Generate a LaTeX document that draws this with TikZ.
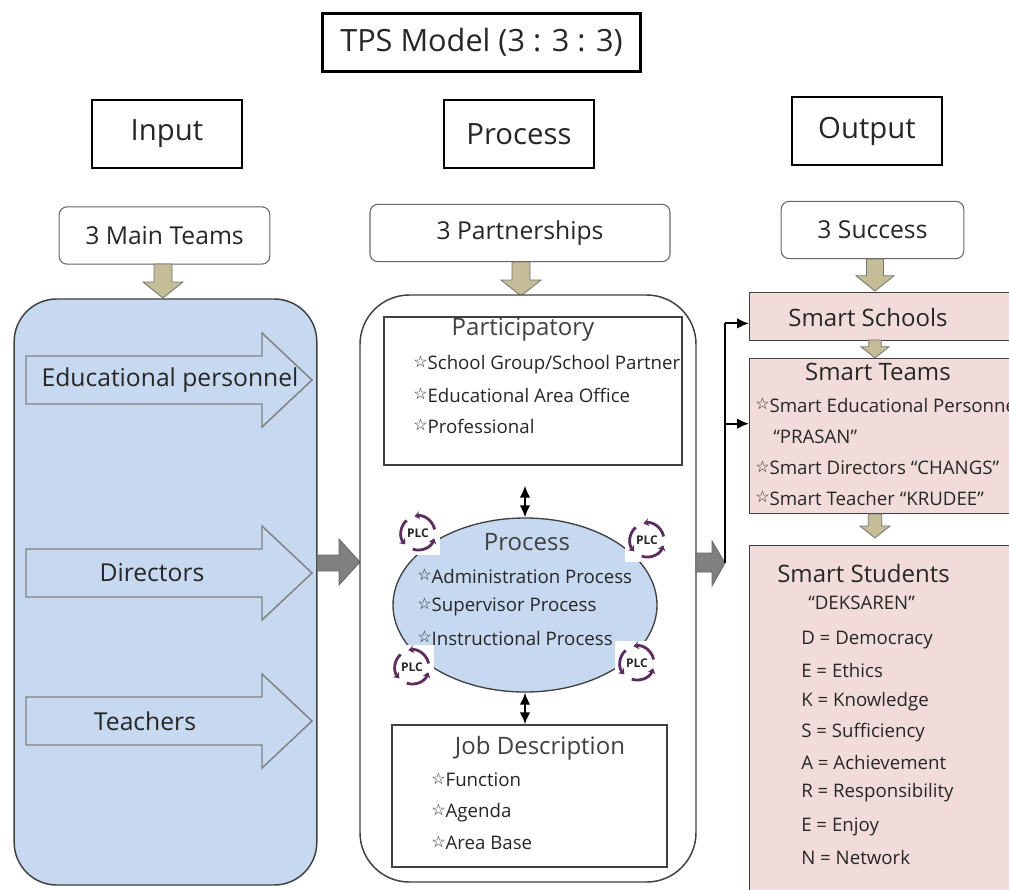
\documentclass[tikz,border=0pt]{standalone}
\usepackage{fontspec}
\setmainfont{Open Sans}
\newfontfamily\symfont{DejaVu Sans}
\usetikzlibrary{arrows.meta,shapes.geometric}
\definecolor{inblue}{HTML}{C6D9F1}
\definecolor{outpink}{HTML}{F2DCDB}
\definecolor{khaki}{HTML}{C4BD97}
\definecolor{plcpurple}{HTML}{5B2C5E}
\newcommand{\wstar}{{\symfont\fontsize{12}{12}\selectfont\raisebox{0.25ex}{☆}}}
% khaki block arrow pointing down: x, top, bottom, head half width
\newcommand{\khakidown}[4]{%
  \draw[fill=khaki, draw=black!55, line width=0.6pt]
    ({#1-0.45*#4},#2) -- ({#1+0.45*#4},#2) -- ({#1+0.45*#4},{#3-0.8*#4})
    -- ({#1+#4},{#3-0.8*#4}) -- (#1,#3) -- ({#1-#4},{#3-0.8*#4})
    -- ({#1-0.45*#4},{#3-0.8*#4}) -- cycle;}
% PLC cycle icon: x, y, name
\newcommand{\plcicon}[3]{%
  \fill[white] ({#1-22},{#2-22}) rectangle ({#1+22},{#2+22});
  \foreach \a in {0,120,240}
    \draw[plcpurple, line width=2.1pt, -{Stealth[length=4pt,width=6pt]}]
      ([shift={(\a+108:17)}]#1,#2) arc[start angle=\a+108, end angle=\a+18, radius=17];
  \node[font=\bfseries\fontsize{9}{9}\selectfont, inner sep=0pt] (#3) at (#1,#2) {PLC};}
\begin{document}
\begin{tikzpicture}[x=0.75pt,y=-0.75pt,
    every node/.style={text=black!85},
    headbox/.style={draw, line width=2.2pt, minimum width=112.5pt, minimum height=51pt,
      font=\fontsize{22}{26}\selectfont},
    subbox/.style={draw=black!60, rounded corners=6pt, line width=0.8pt, minimum height=43pt,
      font=\fontsize{18.5}{22}\selectfont},
    panel/.style={draw=black!75, line width=1.1pt},
    framebox/.style={draw=black!75, line width=1pt, fill=white},
    outbox/.style={draw=black!75, fill=outpink, line width=1.1pt, anchor=north west,
      minimum width=210pt},
    sectitle/.style={font=\fontsize{18}{22}\selectfont},
    item/.style={anchor=west, font=\fontsize{14}{16}\selectfont, inner sep=0pt},
    dbl/.style={{Latex[length=9pt,width=8pt]}-{Latex[length=9pt,width=8pt]}, line width=1.6pt},
    link/.style={-{Latex[length=9pt,width=8pt]}, line width=1.5pt},
    blockout/.style={draw=black!50, line width=1.1pt},
    grayarrow/.style={fill=black!50, draw=black!60, line width=0.6pt}]
\useasboundingbox (0,0) rectangle (1009,889);
\clip (0,0) rectangle (1009,889);

% headings
\node[headbox, line width=2.4pt, minimum width=239pt, minimum height=44pt,
  font=\fontsize{23}{27}\selectfont] (title) at (481.5,42.5) {TPS Model (3 : 3 : 3)};
\node[headbox] (input) at (167,134) {Input};
\node[headbox] (process) at (519,134) {Process};
\node[headbox] (output) at (867,131) {Output};

\node[subbox, minimum width=158pt] (teams3) at (164.5,235.5) {3 Main Teams};
\node[subbox, minimum width=225pt] (partner3) at (520,233) {3 Partnerships};
\node[subbox, minimum width=137pt] (success3) at (872.5,230) {3 Success};

\khakidown{163}{264}{298}{20}
\khakidown{521}{262}{296}{20}
\khakidown{875}{259}{291}{19}

% input column
\node[panel, fill=inblue, rounded corners=32pt, minimum width=227pt, minimum height=439.5pt]
  (inpanel) at (165.5,592) {};
\foreach \y/\tx/\lbl in {380/170/Educational personnel, 573/152/Directors, 721/145/Teachers} {
  \draw[blockout] (26,{\y-24}) -- (262,{\y-24}) -- (262,{\y-47}) -- (312,\y)
    -- (262,{\y+47}) -- (262,{\y+24}) -- (26,{\y+24}) -- cycle;
  \node[font=\fontsize{18.5}{22}\selectfont] (team\y) at (\tx,\y) {\lbl};
}
\draw[grayarrow] (317,555) -- (339,555) -- (339,539) -- (360,562) -- (339,585)
  -- (339,571) -- (317,571) -- cycle;

% process column
\node[panel, fill=white, rounded corners=37pt, minimum width=252pt, minimum height=440.25pt]
  (procpanel) at (528,588.5) {};
\node[framebox, minimum width=223.5pt, minimum height=111pt] (particip) at (533,391) {};
\node[sectitle, text=black!75] (partictitle) at (523,330) {Participatory};
\begin{scope}
  \clip (particip.south west) rectangle (particip.north east);
  \node[item] (pa1) at (413,365) {\wstar School Group/School Partner};
  \node[item] (pa2) at (413,395) {\wstar Educational Area Office};
  \node[item] (pa3) at (413,426) {\wstar Professional};
\end{scope}

\node[ellipse, draw=black!75, fill=inblue, line width=1pt, minimum width=198pt,
  minimum height=130.5pt] (procell) at (525,605) {};
\node[sectitle, text=black!75] (proctitle) at (527,542) {Process};
\node[item] (pr1) at (417,576) {\wstar Administration Process};
\node[item] (pr2) at (417,607) {\wstar Supervisor Process};
\node[item] (pr3) at (417,638) {\wstar Instructional Process};
\plcicon{418}{533}{plc1}
\plcicon{647}{540}{plc2}
\plcicon{412}{667}{plc3}
\plcicon{637}{663}{plc4}

\node[framebox, minimum width=206.25pt, minimum height=106.5pt] (jobbox) at (529.5,796) {};
\node[sectitle, text=black!75] (jobtitle) at (540,748) {Job Description};
\node[item] (jb1) at (431,780) {\wstar Function};
\node[item] (jb2) at (431,813) {\wstar Agenda};
\node[item] (jb3) at (431,843) {\wstar Area Base};

\draw[dbl, shorten <=15pt] (procell.north |- particip.south) -- (procell.north);
\draw[dbl] (procell.south) -- (procell.south |- jobbox.north);

\draw[grayarrow] (696,553) -- (712,553) -- (712,541) -- (725,563) -- (712,586)
  -- (712,572) -- (696,572) -- cycle;
\coordinate (junction) at (725,563);

% output column
\node[outbox, minimum height=36pt] (schools) at (749,292) {};
\node[outbox, minimum height=116.25pt] (smteams) at (749,358) {};
\node[outbox, minimum height=270pt] (students) at (749,545) {};
\khakidown{875}{340}{358}{14}
\khakidown{875}{514}{538}{15}

\node[sectitle] (schooltitle) at (868,317) {Smart Schools};
\node[sectitle] (teamtitle) at (878,372) {Smart Teams};
\node[item] (tm1) at (755,405) {\wstar Smart Educational Personnel};
\node[item] (tm2) at (773,437) {“PRASAN”};
\node[item] (tm3) at (755,468) {\wstar Smart Directors “CHANGS”};
\node[item] (tm4) at (755,498) {\wstar Smart Teacher “KRUDEE”};

\node[sectitle, anchor=west, inner sep=0pt] (studtitle) at (777,573) {Smart Students};
\node[item] (dek) at (808,603) {“DEKSAREN”};
\foreach \y/\t in {640/D = Democracy, 670/E = Ethics, 702/K = Knowledge,
    733/S = Sufficiency, 762/A = Achievement, 793/R = Responsibility,
    827/E = Enjoy, 857/N = Network}
  \node[item] (st\y) at (801,\y) {\t};

\coordinate (schoolin) at ([yshift=-5pt]schools.west);
\coordinate (teamin) at ([yshift=9.4pt]smteams.west);
\draw[line width=2.2pt] (junction) -- (junction |- schoolin);
\draw[link] (junction |- schoolin) -- (schoolin);
\draw[link] (junction |- teamin) -- (teamin);
\end{tikzpicture}
\end{document}
